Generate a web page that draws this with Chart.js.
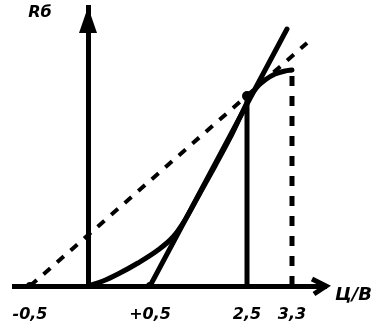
<!DOCTYPE html>
<html>
<head>
<meta charset="utf-8">
<script src="https://cdn.jsdelivr.net/npm/chart.js@4/dist/chart.umd.min.js"></script>
<style>
  html, body { margin: 0; padding: 0; background: #ffffff; }
  #wrap { width: 377px; height: 331px; }
</style>
</head>
<body>
<div id="wrap"><canvas id="c" width="377" height="331"></canvas></div>
<script>
// ---- data ----
const xTickValues = [-0.5, 0.5, 2.5, 3.3];
const xTickLabels = ['-0,5', '+0,5', '2,5', '3,3'];
const xTitle = 'Ц/В';
const yTitle = 'Rб';

const curveX = [0, 0.121, 0.242, 0.403, 0.665, 0.974, 1.222, 1.531, 1.840, 2.149, 2.397, 2.553, 2.678, 2.820, 2.998, 3.176, 3.3];
const curveY = [0, 0.179, 0.430, 0.824, 1.290, 1.756, 2.366, 3.333, 4.301, 5.305, 6.201, 6.774, 7.133, 7.384, 7.599, 7.706, 7.742];

const tangentX = [0.5, 3.211];
const tangentY = [0, 9.21];

const dashedX = [-0.5, 3.567];
const dashedY = [0, 8.71];

const vSolidX = [2.5, 2.5];
const vSolidY = [0, 6.81];

const vDashedX = [3.3, 3.3];
const vDashedY = [0, 7.74];

// ---- schematic (non-uniform) x axis: value -> fraction of axis length ----
const xAxisKnots = [[-0.638, 0], [-0.5, 0.0513], [0, 0.2372], [0.5, 0.4359], [2.5, 0.7468], [3.3, 0.891], [3.904, 1]];

class PiecewiseScale extends Chart.LinearScale {
  _frac(v) {
    const k = xAxisKnots;
    let i = 0;
    if (v <= k[0][0]) i = 0;
    else if (v >= k[k.length - 1][0]) i = k.length - 2;
    else { while (i < k.length - 2 && v > k[i + 1][0]) i++; }
    const a = k[i], b = k[i + 1];
    return a[1] + (v - a[0]) * (b[1] - a[1]) / (b[0] - a[0]);
  }
  _inv(f) {
    const k = xAxisKnots;
    let i = 0;
    if (f <= k[0][1]) i = 0;
    else if (f >= k[k.length - 1][1]) i = k.length - 2;
    else { while (i < k.length - 2 && f > k[i + 1][1]) i++; }
    const a = k[i], b = k[i + 1];
    return a[0] + (f - a[1]) * (b[0] - a[0]) / (b[1] - a[1]);
  }
  getPixelForValue(value) {
    return this.getPixelForDecimal(this._frac(value));
  }
  getValueForPixel(pixel) {
    return this._inv(this.getDecimalForPixel(pixel));
  }
}
PiecewiseScale.id = 'piecewise';
PiecewiseScale.defaults = Chart.LinearScale.defaults;
Chart.register(PiecewiseScale);

function pts(xs, ys) { return xs.map((x, i) => ({ x: x, y: ys[i] })); }

const FONT = "'DejaVu Sans', Verdana, sans-serif";

const decor = {
  id: 'decor',
  afterDatasetsDraw(chart) {
    const ctx = chart.ctx;
    const xs = chart.scales.x, ys = chart.scales.y;
    const ca = chart.chartArea;
    const x0 = xs.getPixelForValue(0);
    const yb = ys.getPixelForValue(0);
    ctx.save();
    ctx.fillStyle = '#000';
    ctx.strokeStyle = '#000';
    // y arrow (filled)
    ctx.beginPath();
    ctx.moveTo(x0, ca.top);
    ctx.lineTo(x0 - 9, ca.top + 26);
    ctx.lineTo(x0 + 9, ca.top + 26);
    ctx.closePath();
    ctx.fill();
    // x arrow (open chevron)
    ctx.lineWidth = 5;
    ctx.lineJoin = 'miter';
    ctx.beginPath();
    ctx.moveTo(ca.right - 14, yb - 7);
    ctx.lineTo(ca.right, yb);
    ctx.lineTo(ca.right - 12, yb + 8);
    ctx.stroke();
    // titles
    ctx.font = 'italic bold 16px ' + FONT;
    ctx.textBaseline = 'middle';
    ctx.textAlign = 'center';
    ctx.fillText(yTitle, x0 - 48, ca.top + 6);
    ctx.font = 'italic bold 18px ' + FONT;
    ctx.textAlign = 'left';
    ctx.fillText(xTitle, ca.right + 9, yb + 9);
    ctx.restore();
  }
};

new Chart(document.getElementById('c'), {
  type: 'scatter',
  data: {
    datasets: [
      { data: pts(curveX, curveY), showLine: true, borderColor: '#000', borderWidth: 5, pointRadius: 0, cubicInterpolationMode: 'monotone', borderCapStyle: 'round', borderJoinStyle: 'round' },
      { data: pts(tangentX, tangentY), showLine: true, borderColor: '#000', backgroundColor: '#000', borderWidth: 5, pointRadius: [4, 0], pointBorderWidth: 0, borderCapStyle: 'round' },
      { data: pts(dashedX, dashedY), showLine: true, borderColor: '#000', backgroundColor: '#000', borderWidth: 4, borderDash: [9, 9], pointRadius: [4, 0], pointBorderWidth: 0 },
      { data: pts(vSolidX, vSolidY), showLine: true, borderColor: '#000', backgroundColor: '#000', borderWidth: 5, pointRadius: [0, 5], pointBorderWidth: 0 },
      { data: pts(vDashedX, vDashedY), showLine: true, borderColor: '#000', borderWidth: 5, borderDash: [10, 10], pointRadius: 0 }
    ]
  },
  options: {
    responsive: false,
    animation: false,
    events: [],
    layout: { padding: { left: 14, right: 51, top: 7, bottom: 0 } },
    plugins: { legend: { display: false }, tooltip: { enabled: false } },
    scales: {
      x: {
        type: 'piecewise',
        position: 'bottom',
        min: -0.638,
        max: 3.904,
        grid: { display: false, drawTicks: false },
        border: { display: true, color: '#000', width: 5 },
        afterBuildTicks: (s) => { s.ticks = xTickValues.map(v => ({ value: v })); },
        afterFit: (s) => { s.height = 45; s.paddingLeft = 0; s.paddingRight = 0; },
        ticks: {
          autoSkip: false, maxRotation: 0, padding: 19, color: '#000',
          font: { family: FONT, size: 16, style: 'italic', weight: 'bold' },
          callback: (v, i) => xTickLabels[i]
        }
      },
      y: {
        type: 'linear',
        position: { x: 0 },
        min: 0,
        max: 10,
        grid: { display: false, drawTicks: false },
        border: { display: true, color: '#000', width: 5 },
        ticks: { display: false }
      }
    }
  },
  plugins: [decor]
});
</script>
</body>
</html>
